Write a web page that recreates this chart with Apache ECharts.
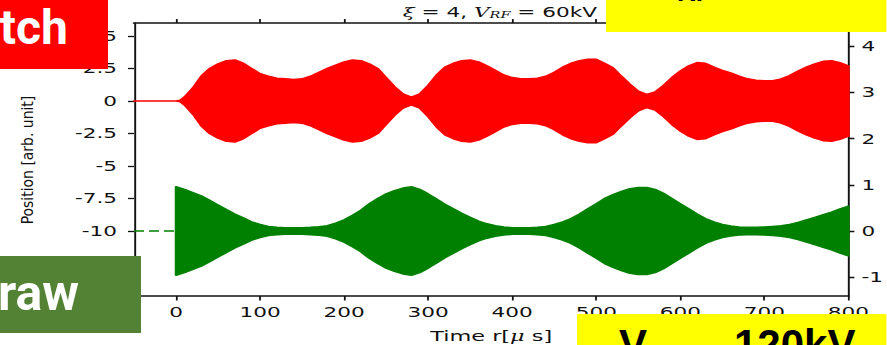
<!DOCTYPE html>
<html>
<head>
<meta charset="utf-8">
<script src="https://cdn.jsdelivr.net/npm/echarts@6/dist/echarts.min.js"></script>
<style>
  html, body { margin: 0; padding: 0; background: #fff; overflow: hidden; width: 887px; height: 345px; }
  #chart { height: 345px; transform-origin: 0 0; }
</style>
</head>
<body>
<div id="chart"></div>
<script>
// Beam position signals: upper trace centred on 0, lower trace centred on -10.
// Each trace is drawn as its oscillation envelope (half-amplitude at each time).

const redTimes = [-50, 0, 5, 10, 20, 30, 40, 50, 60, 70, 80, 90, 100, 110, 120, 130, 140, 150, 160, 170,
  180, 190, 200, 210, 220, 230, 240, 250, 260, 270, 280, 290, 300, 310, 320, 330, 340, 350, 360, 370,
  380, 390, 400, 410, 420, 430, 440, 450, 460, 470, 480, 490, 500, 510, 520, 530, 540, 550, 560, 570,
  580, 590, 600, 610, 620, 630, 640, 650, 660, 670, 680, 690, 700, 710, 720, 730, 740, 750, 760, 770,
  780, 790, 800];
const redAmplitude = [0, 0, 0.05, 0.3, 1.0, 1.9, 2.5, 2.85, 3.1, 3.15, 2.9, 2.5, 2.1, 1.9, 1.75, 1.7, 1.65, 1.7, 1.9, 2.2,
  2.5, 2.75, 3.0, 3.15, 3.1, 2.85, 2.5, 1.8, 1.1, 0.55, 0.3, 0.55, 1.2, 2.0, 2.6, 2.9, 3.1, 3.15, 3.0, 2.7,
  2.35, 2.0, 1.8, 1.7, 1.7, 1.75, 1.9, 2.2, 2.6, 2.9, 3.1, 3.2, 3.2, 2.9, 2.55, 1.9, 1.3, 0.75, 0.5, 0.7,
  1.2, 1.8, 2.3, 2.7, 2.95, 2.9, 2.6, 2.35, 2.15, 1.9, 1.7, 1.6, 1.55, 1.55, 1.7, 1.95, 2.3, 2.6, 2.85, 3.05,
  3.1, 2.95, 2.7];

const greenTimes = [0, 10, 20, 30, 40, 50, 60, 70, 80, 90, 100, 110, 120, 130, 140, 150, 160, 170, 180, 190,
  200, 210, 220, 230, 240, 250, 260, 270, 280, 290, 300, 310, 320, 330, 340, 350, 360, 370, 380, 390,
  400, 410, 420, 430, 440, 450, 460, 470, 480, 490, 500, 510, 520, 530, 540, 550, 560, 570, 580, 590,
  600, 610, 620, 630, 640, 650, 660, 670, 680, 690, 700, 710, 720, 730, 740, 750, 760, 770, 780, 790, 800];
const greenAmplitude = [3.4, 3.2, 2.95, 2.7, 2.35, 2.0, 1.65, 1.3, 1.0, 0.7, 0.5, 0.35, 0.28, 0.25, 0.25, 0.25, 0.28, 0.32, 0.4, 0.6,
  0.85, 1.2, 1.6, 2.1, 2.5, 2.85, 3.1, 3.3, 3.4, 3.2, 2.85, 2.45, 2.05, 1.7, 1.35, 1.05, 0.75, 0.55, 0.4, 0.3,
  0.25, 0.25, 0.25, 0.28, 0.35, 0.5, 0.7, 0.95, 1.3, 1.7, 2.1, 2.5, 2.8, 3.05, 3.25, 3.35, 3.35, 3.2, 2.9, 2.5,
  2.1, 1.7, 1.3, 0.95, 0.7, 0.5, 0.38, 0.3, 0.28, 0.28, 0.3, 0.35, 0.4, 0.5, 0.65, 0.85, 1.05, 1.25, 1.45, 1.7, 1.9];

const greenLeadTimes = [-50, 0];
const redCenter = 0;
const greenCenter = -10;

const timeTicks = [0, 100, 200, 300, 400, 500, 600, 700, 800];
const rightTicks = [-1, 0, 1, 2, 3, 4];

// The plot is laid out narrow and stretched horizontally on the page.
const S = 1.6;
const PAGE_W = 887;
const dom = document.getElementById('chart');
dom.style.width = (PAGE_W / S) + 'px';
dom.style.transform = 'scaleX(' + S + ')';
const X = v => v / S;

const RED = '#ff0000';
const GREEN = '#008000';
const INK = '#111';
const FONT = 'DejaVu Sans';

// Envelope band: rows of [time, top, bottom], filled as one polygon in data coordinates.
function bandSeries(name, times, amps, center, color) {
  const rows = times.map((t, i) => [t, center + amps[i], center - amps[i]]);
  return {
    type: 'custom', name, silent: true, animation: false,
    data: rows,
    encode: { x: 0, y: [1, 2] },
    renderItem(params, api) {
      if (params.dataIndex !== 0) return null;
      const top = rows.map(r => api.coord([r[0], r[1]]));
      const bottom = rows.map(r => api.coord([r[0], r[2]])).reverse();
      return {
        type: 'polygon',
        shape: { points: top.concat(bottom) },
        style: { fill: color, stroke: color, lineWidth: 1.6, lineJoin: 'round' }
      };
    }
  };
}

const axisLineStyle = { color: INK, width: 1.7 };
const vAxisLineStyle = { color: INK, width: 1.2 };
const labelStyle = { color: INK, fontFamily: FONT, fontSize: 13.5 };

const chart = echarts.init(dom, null, { renderer: 'svg' });

chart.setOption({
  animation: false,
  backgroundColor: '#fff',
  grid: { left: X(134), right: X(38), top: 23, bottom: 49, outerBoundsMode: 'none', containLabel: false },
  xAxis: [
    {
      type: 'value', position: 'bottom', min: -50, max: 800,
      axisLine: { onZero: false, lineStyle: axisLineStyle },
      axisTick: { customValues: timeTicks, length: 4.5, lineStyle: { color: INK, width: 1.1 } },
      axisLabel: Object.assign({ customValues: timeTicks, margin: 9 }, labelStyle),
      splitLine: { show: false },
      name: 'Time r[{mu|μ} s]', nameLocation: 'middle', nameGap: 33,
      nameTextStyle: {
        color: INK, fontFamily: FONT, fontSize: 14,
        rich: { mu: { fontFamily: 'DejaVu Serif', fontStyle: 'italic', fontSize: 14, color: INK } }
      }
    },
    {
      type: 'value', position: 'top', min: -50, max: 800,
      axisLine: { onZero: false, lineStyle: axisLineStyle },
      axisTick: { customValues: timeTicks, length: 4, lineStyle: { color: INK, width: 1.1 } },
      axisLabel: { show: false },
      splitLine: { show: false }
    }
  ],
  yAxis: [
    {
      type: 'value', position: 'left', min: -15, max: 6, interval: 2.5,
      axisLine: { show: true, onZero: false, lineStyle: vAxisLineStyle },
      axisTick: { show: true, length: X(6), lineStyle: { color: INK, width: 1.3 } },
      axisLabel: Object.assign({ margin: X(17), showMaxLabel: false }, labelStyle),
      splitLine: { show: false }
    },
    {
      type: 'value', position: 'right', min: -1.4, max: 4.5,
      axisLine: { show: true, onZero: false, lineStyle: vAxisLineStyle },
      axisTick: { show: true, customValues: rightTicks, length: X(6), lineStyle: { color: INK, width: 1.3 } },
      axisLabel: Object.assign({ customValues: rightTicks, margin: X(13) }, labelStyle),
      splitLine: { show: false }
    }
  ],
  series: [
    bandSeries('upper', redTimes, redAmplitude, redCenter, RED),
    bandSeries('lower', greenTimes, greenAmplitude, greenCenter, GREEN),
    {
      type: 'line', name: 'lower-lead', symbol: 'none', silent: true,
      data: greenLeadTimes.map(t => [t, greenCenter]),
      lineStyle: { color: GREEN, width: 1.3, type: [X(10), X(5)] }
    }
  ],
  graphic: [
    // plot title
    {
      type: 'text', x: X(597), y: 12, z: 50,
      style: {
        text: '{g|ξ} = 4, {g|V}{s|RF} = 60kV',
        fill: INK, font: '13.5px ' + FONT, align: 'right', textAlign: 'right',
        verticalAlign: 'middle', textVerticalAlign: 'middle',
        rich: {
          g: { fontFamily: 'DejaVu Serif', fontStyle: 'italic', fontSize: 13.5, fill: INK },
          s: { fontFamily: 'DejaVu Serif', fontStyle: 'italic', fontSize: 9, fill: INK, padding: [6, 0, 0, 0] }
        }
      }
    },
    // vertical axis title
    {
      type: 'text', x: X(27.5), y: 160, rotation: Math.PI / 2, scaleX: 1.0, scaleY: 1 / S, z: 50,
      style: {
        text: 'Position [arb. unit]', fill: INK, font: '15.5px "DejaVu Sans Condensed"',
        align: 'center', textAlign: 'center', verticalAlign: 'middle', textVerticalAlign: 'middle'
      }
    },
    // labels placed over the figure
    { type: 'rect', z: 100, shape: { x: 0, y: 0, width: X(108), height: 69 }, style: { fill: '#ff0000' } },
    {
      type: 'text', z: 101, x: X(68), y: 27, scaleX: 1 / S,
      style: { text: 'Sketch', fill: '#fff', font: 'bold 48px Roboto', align: 'right', textAlign: 'right', verticalAlign: 'middle', textVerticalAlign: 'middle' }
    },
    { type: 'rect', z: 100, shape: { x: X(606), y: 0, width: X(281), height: 32 }, style: { fill: '#ffff00' } },
    {
      type: 'text', z: 101, x: X(676), y: -24, scaleX: 1 / S,
      style: { text: 'V', fill: '#000', font: 'bold 42px "Liberation Sans"', align: 'right', textAlign: 'right', verticalAlign: 'middle', textVerticalAlign: 'middle' }
    },
    {
      type: 'text', z: 101, x: X(677), y: -8, scaleX: 1 / S,
      style: { text: 'RF', fill: '#000', font: 'bold 26px "Liberation Sans"', align: 'left', textAlign: 'left', verticalAlign: 'middle', textVerticalAlign: 'middle' }
    },
    {
      type: 'text', z: 101, x: X(712), y: -24, scaleX: 1 / S,
      style: { text: '= 60kV', fill: '#000', font: 'bold 42px "Liberation Sans"', align: 'left', textAlign: 'left', verticalAlign: 'middle', textVerticalAlign: 'middle' }
    },
    { type: 'rect', z: 100, shape: { x: 0, y: 256, width: X(141), height: 77 }, style: { fill: '#548235' } },
    {
      type: 'text', z: 101, x: X(79), y: 293, scaleX: 1 / S,
      style: { text: 'Draw', fill: '#fff', font: 'bold 50px Roboto', align: 'right', textAlign: 'right', verticalAlign: 'middle', textVerticalAlign: 'middle' }
    },
    { type: 'rect', z: 100, shape: { x: X(577), y: 314, width: X(310), height: 31 }, style: { fill: '#ffff00' } },
    {
      type: 'text', z: 101, x: X(619), y: 344, scaleX: 1 / S,
      style: { text: 'V', fill: '#000', font: 'bold 42px "Liberation Sans"', align: 'left', textAlign: 'left', verticalAlign: 'middle', textVerticalAlign: 'middle' }
    },
    {
      type: 'text', z: 101, x: X(650), y: 362, scaleX: 1 / S,
      style: { text: 'RF', fill: '#000', font: 'bold 26px "Liberation Sans"', align: 'left', textAlign: 'left', verticalAlign: 'middle', textVerticalAlign: 'middle' }
    },
    {
      type: 'text', z: 101, x: X(734), y: 344, scaleX: 1 / S,
      style: { text: '120kV', fill: '#000', font: 'bold 42px "Liberation Sans"', align: 'left', textAlign: 'left', verticalAlign: 'middle', textVerticalAlign: 'middle' }
    }
  ]
});
</script>
</body>
</html>
